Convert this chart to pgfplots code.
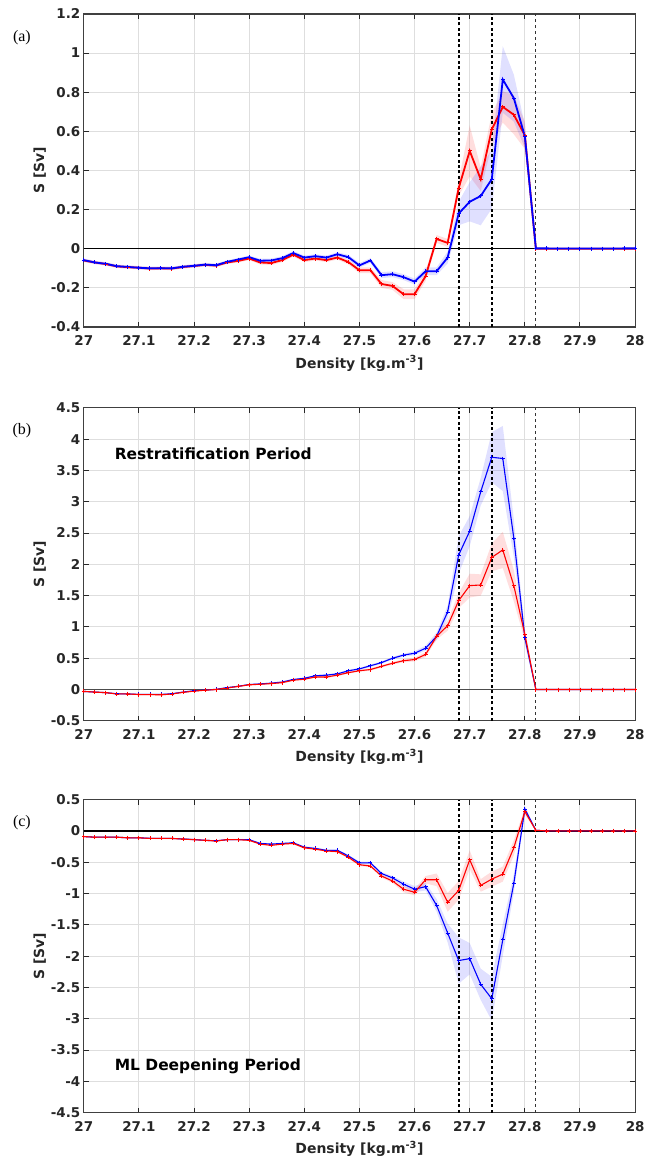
\documentclass[border=0pt]{standalone}
\usepackage{fontspec}
\setmainfont{DejaVu Sans}
\newfontfamily\serifl{Liberation Serif}
\usepackage{pgfplots}
\usepgfplotslibrary{fillbetween}
\pgfplotsset{compat=1.18}
\usepackage{pgfplotstable}

\pgfplotstableread{
x r re b be
27.00 -0.060 0.008 -0.058 0.008
27.02 -0.070 0.008 -0.070 0.008
27.04 -0.078 0.008 -0.077 0.008
27.06 -0.090 0.008 -0.089 0.008
27.08 -0.094 0.008 -0.093 0.008
27.10 -0.097 0.008 -0.097 0.008
27.12 -0.101 0.008 -0.100 0.008
27.14 -0.100 0.008 -0.099 0.008
27.16 -0.101 0.008 -0.100 0.008
27.18 -0.093 0.008 -0.092 0.008
27.20 -0.088 0.008 -0.087 0.008
27.22 -0.082 0.008 -0.081 0.008
27.24 -0.086 0.008 -0.084 0.008
27.26 -0.070 0.008 -0.067 0.008
27.28 -0.062 0.008 -0.055 0.008
27.30 -0.050 0.008 -0.043 0.008
27.32 -0.070 0.010 -0.061 0.010
27.34 -0.073 0.010 -0.060 0.010
27.36 -0.058 0.010 -0.048 0.010
27.38 -0.030 0.010 -0.022 0.010
27.40 -0.058 0.010 -0.045 0.010
27.42 -0.050 0.010 -0.038 0.010
27.44 -0.058 0.010 -0.045 0.010
27.46 -0.045 0.010 -0.028 0.010
27.48 -0.068 0.012 -0.043 0.012
27.50 -0.110 0.015 -0.085 0.012
27.52 -0.110 0.015 -0.060 0.012
27.54 -0.180 0.020 -0.135 0.015
27.56 -0.190 0.020 -0.130 0.015
27.58 -0.232 0.025 -0.145 0.015
27.60 -0.232 0.025 -0.168 0.015
27.62 -0.140 0.025 -0.115 0.020
27.64 0.050 0.020 -0.115 0.020
27.66 0.030 0.020 -0.045 0.030
27.68 0.310 0.040 0.180 0.060
27.70 0.500 0.130 0.240 0.100
27.72 0.355 0.060 0.270 0.150
27.74 0.610 0.080 0.355 0.150
27.76 0.725 0.080 0.865 0.170
27.78 0.685 0.100 0.770 0.120
27.80 0.580 0.070 0.575 0.060
27.82 0.000 0.003 0.002 0.003
27.84 0.000 0.002 0.002 0.002
27.86 0.000 0.002 0.001 0.002
27.88 0.000 0.002 0.001 0.002
27.90 0.000 0.002 0.001 0.002
27.92 0.000 0.002 0.001 0.002
27.94 0.000 0.002 0.001 0.002
27.96 0.000 0.002 0.001 0.002
27.98 0.000 0.002 0.002 0.002
28.00 0.000 0.002 0.002 0.002
}\tabA

\pgfplotstableread{
x r re b be
27.00 -0.030 0.010 -0.030 0.010
27.02 -0.040 0.010 -0.040 0.010
27.04 -0.050 0.010 -0.050 0.010
27.06 -0.070 0.010 -0.068 0.010
27.08 -0.070 0.010 -0.070 0.010
27.10 -0.080 0.010 -0.078 0.010
27.12 -0.080 0.010 -0.078 0.010
27.14 -0.085 0.010 -0.078 0.010
27.16 -0.070 0.010 -0.068 0.010
27.18 -0.045 0.010 -0.040 0.010
27.20 -0.025 0.010 -0.020 0.010
27.22 -0.010 0.010 -0.008 0.010
27.24 0.000 0.010 0.003 0.010
27.26 0.025 0.010 0.030 0.010
27.28 0.050 0.010 0.052 0.010
27.30 0.075 0.010 0.080 0.010
27.32 0.085 0.010 0.090 0.010
27.34 0.095 0.010 0.102 0.010
27.36 0.110 0.010 0.120 0.010
27.38 0.150 0.012 0.160 0.012
27.40 0.165 0.012 0.180 0.012
27.42 0.200 0.012 0.220 0.012
27.44 0.200 0.015 0.230 0.015
27.46 0.230 0.015 0.250 0.015
27.48 0.270 0.015 0.300 0.015
27.50 0.300 0.015 0.330 0.015
27.52 0.320 0.020 0.380 0.020
27.54 0.370 0.020 0.430 0.020
27.56 0.420 0.020 0.500 0.020
27.58 0.460 0.025 0.550 0.025
27.60 0.480 0.030 0.580 0.030
27.62 0.560 0.040 0.660 0.040
27.64 0.850 0.050 0.850 0.060
27.66 1.020 0.080 1.240 0.100
27.68 1.420 0.120 2.150 0.300
27.70 1.660 0.190 2.530 0.240
27.72 1.670 0.170 3.160 0.220
27.74 2.110 0.220 3.710 0.400
27.76 2.230 0.290 3.690 0.520
27.78 1.660 0.250 2.420 0.300
27.80 0.880 0.100 0.830 0.100
27.82 0.000 0.005 0.000 0.005
27.84 0.000 0.003 0.000 0.003
27.86 0.000 0.003 0.000 0.003
27.88 0.000 0.003 0.000 0.003
27.90 0.000 0.003 0.000 0.003
27.92 0.000 0.003 0.000 0.003
27.94 0.000 0.003 0.000 0.003
27.96 0.000 0.003 0.000 0.003
27.98 0.000 0.003 0.000 0.003
28.00 0.000 0.003 0.000 0.003
}\tabB

\pgfplotstableread{
x r re b be
27.00 -0.090 0.010 -0.090 0.010
27.02 -0.100 0.010 -0.100 0.010
27.04 -0.100 0.010 -0.100 0.010
27.06 -0.100 0.010 -0.100 0.010
27.08 -0.110 0.010 -0.110 0.010
27.10 -0.110 0.010 -0.110 0.010
27.12 -0.120 0.010 -0.118 0.010
27.14 -0.120 0.010 -0.120 0.010
27.16 -0.120 0.010 -0.120 0.010
27.18 -0.130 0.010 -0.128 0.010
27.20 -0.140 0.010 -0.138 0.010
27.22 -0.150 0.010 -0.150 0.010
27.24 -0.160 0.010 -0.158 0.010
27.26 -0.140 0.010 -0.140 0.010
27.28 -0.140 0.010 -0.138 0.010
27.30 -0.150 0.010 -0.140 0.010
27.32 -0.210 0.012 -0.200 0.012
27.34 -0.230 0.012 -0.210 0.012
27.36 -0.210 0.012 -0.200 0.012
27.38 -0.200 0.012 -0.190 0.012
27.40 -0.270 0.015 -0.260 0.015
27.42 -0.290 0.015 -0.280 0.015
27.44 -0.320 0.015 -0.310 0.015
27.46 -0.330 0.015 -0.310 0.015
27.48 -0.420 0.020 -0.400 0.020
27.50 -0.540 0.020 -0.510 0.020
27.52 -0.560 0.020 -0.510 0.020
27.54 -0.720 0.025 -0.680 0.025
27.56 -0.800 0.030 -0.750 0.030
27.58 -0.930 0.050 -0.850 0.040
27.60 -0.980 0.050 -0.930 0.050
27.62 -0.780 0.060 -0.890 0.060
27.64 -0.780 0.100 -1.190 0.100
27.66 -1.140 0.150 -1.630 0.150
27.68 -0.950 0.150 -2.070 0.370
27.70 -0.460 0.150 -2.040 0.250
27.72 -0.870 0.100 -2.450 0.250
27.74 -0.770 0.120 -2.680 0.350
27.76 -0.690 0.120 -1.740 0.250
27.78 -0.270 0.120 -0.840 0.150
27.80 0.310 0.050 0.350 0.050
27.82 0.010 0.005 0.010 0.005
27.84 0.000 0.003 0.000 0.003
27.86 0.000 0.003 0.000 0.003
27.88 0.000 0.003 0.000 0.003
27.90 0.000 0.003 0.000 0.003
27.92 0.000 0.003 0.000 0.003
27.94 0.000 0.003 0.000 0.003
27.96 0.000 0.003 0.000 0.003
27.98 0.000 0.003 0.000 0.003
28.00 0.000 0.003 0.000 0.003
}\tabC

\pgfplotsset{
  panel/.style={
    scale only axis, width=553pt, height=314pt,
    anchor=north west,
    xmin=27, xmax=28,
    xtick={27,27.1,27.2,27.3,27.4,27.5,27.6,27.7,27.8,27.9,28},
    xticklabels={27,27.1,27.2,27.3,27.4,27.5,27.6,27.7,27.8,27.9,28},
    grid=major,
    major grid style={black!13, line width=1pt},
    tick align=inside,
    major tick length=5pt,
    tick style={black!85, line width=1pt},
    axis line style={black!75, line width=1.1pt},
    tick label style={font=\bfseries\fontsize{13.5}{15}\selectfont, black!85},
    xticklabel style={yshift=-5pt},
    label style={font=\bfseries\fontsize{14}{16}\selectfont, black!85},
    xlabel={Density [kg.m\textsuperscript{-3}]},
    ylabel={S [Sv]},
    xlabel style={yshift=-3pt},
    ylabel style={yshift=-2pt},
    /pgf/number format/assume math mode=true,
  },
  band/.style={draw=none, forget plot},
  vdash/.style={black, line width=1.9pt, dash pattern=on 3pt off 2.5pt},
  vdashthin/.style={black!80, line width=1.1pt, dash pattern=on 3pt off 3pt},
}

\begin{document}
\begin{tikzpicture}
\path (0pt,0pt) rectangle (646pt,-1160pt);

% ---------------- (a)
\begin{axis}[panel, at={(84pt,-14pt)},
  ymin=-0.4, ymax=1.2,
  ytick={-0.4,-0.2,0,0.2,0.4,0.6,0.8,1,1.2},
  yticklabels={-0.4,-0.2,0,0.2,0.4,0.6,0.8,1,1.2}]
\addplot[band, name path=ru] table[x=x, y expr=\thisrow{r}+\thisrow{re}] {\tabA};
\addplot[band, name path=rl] table[x=x, y expr=\thisrow{r}-\thisrow{re}] {\tabA};
\addplot[fill=red, fill opacity=0.13, draw=none, forget plot] fill between[of=ru and rl];
\addplot[band, name path=bu] table[x=x, y expr=\thisrow{b}+\thisrow{be}] {\tabA};
\addplot[band, name path=bl] table[x=x, y expr=\thisrow{b}-\thisrow{be}] {\tabA};
\addplot[fill=blue, fill opacity=0.12, draw=none, forget plot] fill between[of=bu and bl];
\addplot[black, line width=1pt] coordinates {(27,0) (28,0)};
\addplot[vdash] coordinates {(27.68,-0.4) (27.68,1.2)};
\addplot[vdash] coordinates {(27.74,-0.4) (27.74,1.2)};
\addplot[vdashthin] coordinates {(27.82,-0.4) (27.82,1.2)};
\addplot[red, line width=1.8pt, mark=+, mark size=2pt, mark options={line width=1pt}] table[x=x, y=r] {\tabA};
\addplot[blue, line width=1.8pt, mark=+, mark size=2pt, mark options={line width=1pt}] table[x=x, y=b] {\tabA};
\end{axis}

% ---------------- (b)
\begin{axis}[panel, at={(84pt,-409pt)},
  ymin=-0.5, ymax=4.5,
  ytick={-0.5,0,0.5,1,1.5,2,2.5,3,3.5,4,4.5},
  yticklabels={-0.5,0,0.5,1,1.5,2,2.5,3,3.5,4,4.5}]
\addplot[band, name path=ru] table[x=x, y expr=\thisrow{r}+\thisrow{re}] {\tabB};
\addplot[band, name path=rl] table[x=x, y expr=\thisrow{r}-\thisrow{re}] {\tabB};
\addplot[fill=red, fill opacity=0.13, draw=none, forget plot] fill between[of=ru and rl];
\addplot[band, name path=bu] table[x=x, y expr=\thisrow{b}+\thisrow{be}] {\tabB};
\addplot[band, name path=bl] table[x=x, y expr=\thisrow{b}-\thisrow{be}] {\tabB};
\addplot[fill=blue, fill opacity=0.12, draw=none, forget plot] fill between[of=bu and bl];
\addplot[black!70, line width=0.8pt] coordinates {(27,0) (28,0)};
\addplot[vdash] coordinates {(27.68,-0.5) (27.68,4.5)};
\addplot[vdash] coordinates {(27.74,-0.5) (27.74,4.5)};
\addplot[vdashthin] coordinates {(27.82,-0.5) (27.82,4.5)};
\addplot[blue, line width=1.1pt, mark=+, mark size=2pt, mark options={line width=0.8pt}] table[x=x, y=b] {\tabB};
\addplot[red, line width=1.1pt, mark=+, mark size=2pt, mark options={line width=0.8pt}] table[x=x, y=r] {\tabB};
\node[anchor=west, font=\bfseries\fontsize{15.5}{18}\selectfont] at (axis cs:27.05,3.76) {Restratification Period};
\end{axis}

% ---------------- (c)
\begin{axis}[panel, at={(84pt,-802pt)},
  ymin=-4.5, ymax=0.5,
  ytick={-4.5,-4,-3.5,-3,-2.5,-2,-1.5,-1,-0.5,0,0.5},
  yticklabels={-4.5,-4,-3.5,-3,-2.5,-2,-1.5,-1,-0.5,0,0.5}]
\addplot[band, name path=ru] table[x=x, y expr=\thisrow{r}+\thisrow{re}] {\tabC};
\addplot[band, name path=rl] table[x=x, y expr=\thisrow{r}-\thisrow{re}] {\tabC};
\addplot[fill=red, fill opacity=0.13, draw=none, forget plot] fill between[of=ru and rl];
\addplot[band, name path=bu] table[x=x, y expr=\thisrow{b}+\thisrow{be}] {\tabC};
\addplot[band, name path=bl] table[x=x, y expr=\thisrow{b}-\thisrow{be}] {\tabC};
\addplot[fill=blue, fill opacity=0.12, draw=none, forget plot] fill between[of=bu and bl];
\addplot[black, line width=1.4pt] coordinates {(27,0) (28,0)};
\addplot[vdash] coordinates {(27.68,-4.5) (27.68,0.5)};
\addplot[vdash] coordinates {(27.74,-4.5) (27.74,0.5)};
\addplot[vdashthin] coordinates {(27.82,-4.5) (27.82,0.5)};
\addplot[blue, line width=1.1pt, mark=+, mark size=2pt, mark options={line width=0.8pt}] table[x=x, y=b] {\tabC};
\addplot[red, line width=1.1pt, mark=+, mark size=2pt, mark options={line width=0.8pt}] table[x=x, y=r] {\tabC};
\node[anchor=west, font=\bfseries\fontsize{15.5}{18}\selectfont] at (axis cs:27.05,-3.76) {ML Deepening Period};
\end{axis}

\node[font=\serifl\fontsize{16}{18}\selectfont] at (22pt,-38pt) {(a)};
\node[font=\serifl\fontsize{16}{18}\selectfont] at (22pt,-432pt) {(b)};
\node[font=\serifl\fontsize{16}{18}\selectfont] at (22pt,-825pt) {(c)};
\end{tikzpicture}
\end{document}
